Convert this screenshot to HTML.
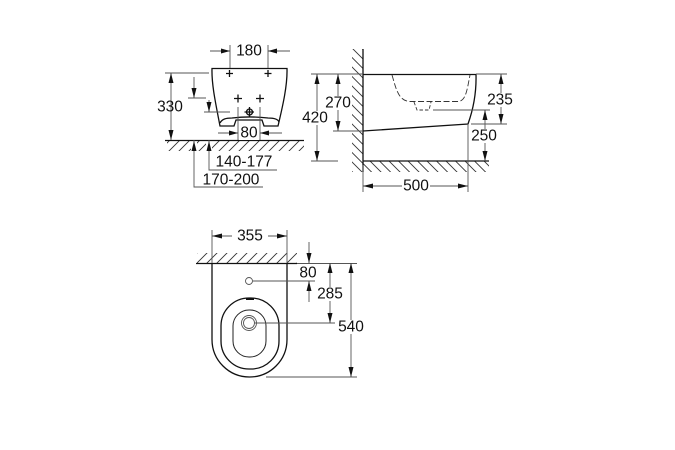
<!DOCTYPE html>
<html>
<head>
<meta charset="utf-8">
<style>
html,body{margin:0;padding:0;background:#fff;}
svg{display:block;}
text{font-family:"Liberation Sans",sans-serif;font-size:15.5px;fill:#111;text-anchor:middle;dominant-baseline:central;}
.k{fill:none;stroke:#111;stroke-width:1.3;}
.t{fill:none;stroke:#555;stroke-width:.9;}
.a{fill:#111;stroke:none;}
</style>
</head>
<body>
<svg width="675" height="450" viewBox="0 0 675 450" xmlns="http://www.w3.org/2000/svg">
<defs>
<pattern id="f" patternUnits="userSpaceOnUse" width="10" height="10"><path d="M0 10L10 0M-1 1L1 -1M9 11L11 9" stroke="#333" stroke-width=".9"/></pattern>
<pattern id="b" patternUnits="userSpaceOnUse" width="9.500" height="9.500"><path d="M0 0L9.500 9.500M-1 8.500L1 10.500M8.500 -1L10.500 1" stroke="#333" stroke-width=".9"/></pattern>
</defs>

<!-- FRONT VIEW -->
<rect x="167" y="140" width="137" height="11" fill="url(#f)"/>
<rect x="191" y="141" width="6" height="11" fill="#fff"/>
<rect x="206" y="141" width="6" height="11" fill="#fff"/>
<path class="k" d="M165 140.500H304"/>
<path class="k" d="M212 68.500H287C287.500 85 283 105 278 126H264L262 120H236L234 126H220C216 105 211.500 85 212 68.500Z"/>
<path class="k" d="M220 123C222 119 226 118 232 118C245 116.500 255 116.500 268 118C274 118 278 119 279 122"/>
<path class="t" d="M230 45V68M268 45V68M165 73H209M188 98H206M204 112H230M238 107V140M260 107V140M210 51H230M268 51H290M218 133H238M260 133H282"/>
<path class="k" stroke-width="1" d="M226 73.500h7M229.500 70v7M264.500 73.500h7M268 70v7M234 98.500h8M238 94.500v8M256 98.500h8M260 94.500v8"/>
<circle class="k" stroke-width="1" cx="249.500" cy="112" r="3"/>
<path class="k" stroke-width="1" d="M249.500 107V117M244.500 112H254"/>
<polygon class="a" points="230,51 221,48.500 221,53.500"/>
<polygon class="a" points="268,51 277,48.500 277,53.500"/>
<polygon class="a" points="238,133 229,130.500 229,135.500"/>
<polygon class="a" points="260,133 269,130.500 269,135.500"/>
<path class="t" d="M171 73V140M194 77V98M209 100V112M209 140V170H277M194 140V187H263"/>
<polygon class="a" points="171,73 168.500,83 173.500,83"/>
<polygon class="a" points="171,140 168.500,130 173.500,130"/>
<polygon class="a" points="194,98 191.500,88 196.500,88"/>
<polygon class="a" points="209,112 206.500,102 211.500,102"/>
<polygon class="a" points="209,141 206.500,151 211.500,151"/>
<polygon class="a" points="194,141 191.500,151 196.500,151"/>
<text x="249" y="51">180</text>
<text x="170" y="107">330</text>
<rect x="239" y="126" width="20" height="14" fill="#fff"/>
<text x="249" y="133">80</text>
<text x="244" y="162">140-177</text>
<text x="231" y="180">170-200</text>

<!-- SIDE VIEW -->
<rect x="352" y="49" width="11" height="123" fill="url(#b)"/>
<rect x="363" y="161" width="126" height="11" fill="url(#b)"/>
<path class="k" d="M363 49V172M363 161H489M363 74.500H476C476.500 92 473 110 468 124L363 131"/>
<path fill="none" stroke="#333" stroke-width=".9" stroke-dasharray="6 2.500" d="M392 75C396 88 398 101 410 101.500H458C466 101 467 90 470 75"/>
<path fill="none" stroke="#333" stroke-width=".9" stroke-dasharray="3.500 2" d="M414 102L417 110H429L431 102"/>
<path class="t" d="M468 124V192M363 165V192M311 74H363M311 161H338M333 131H363M476 74H507M471 124H507M433 110H490M317 74V161M338 74V131M501 74V124M485 110V161M363 186H402M430 186H468"/>
<polygon class="a" points="317,74 314.500,84 319.500,84"/>
<polygon class="a" points="317,161 314.500,151 319.500,151"/>
<polygon class="a" points="338,74 335.500,84 340.500,84"/>
<polygon class="a" points="338,131 335.500,121 340.500,121"/>
<polygon class="a" points="501,74 498.500,84 503.500,84"/>
<polygon class="a" points="501,124 498.500,114 503.500,114"/>
<polygon class="a" points="485,110 482.500,120 487.500,120"/>
<polygon class="a" points="485,161 482.500,151 487.500,151"/>
<polygon class="a" points="363,186 373,183.500 373,188.500"/>
<polygon class="a" points="468,186 458,183.500 458,188.500"/>
<rect x="303" y="111" width="26" height="14" fill="#fff"/>
<text x="315" y="118">420</text>
<rect x="326" y="96" width="25" height="14" fill="#fff"/>
<text x="338" y="103">270</text>
<rect x="487" y="93" width="26" height="14" fill="#fff"/>
<text x="500" y="100">235</text>
<rect x="471" y="129" width="26" height="14" fill="#fff"/>
<text x="484" y="136">250</text>
<text x="416" y="186">500</text>

<!-- TOP VIEW -->
<rect x="197" y="253" width="100" height="10" fill="url(#f)"/>
<path class="k" d="M196 263.500H297"/>
<path class="t" d="M297 263.500H357"/>
<path class="k" d="M212 263.500V339.500A37.500 37.500 0 0 0 287 339.500V263.500"/>
<rect class="k" x="221" y="298" width="58" height="71" rx="28" ry="28"/>
<rect class="t" style="stroke:#222;stroke-width:1" x="233" y="310" width="33" height="47" rx="16" ry="16"/>
<path d="M246 299H254" stroke="#111" stroke-width="2"/>
<circle class="t" cx="249" cy="281" r="3.500"/>
<circle class="t" cx="249" cy="323" r="7.500"/>
<circle class="t" cx="249" cy="323" r="5.500"/>
<path class="t" d="M212 230V263M287 230V263M212 236H232M268 236H287M253 281H315M309 242V263M309 281V302M254 323H335M330 263V323M351 263V377M266 377H357"/>
<polygon class="a" points="212,236 222,233.500 222,238.500"/>
<polygon class="a" points="287,236 277,233.500 277,238.500"/>
<polygon class="a" points="309,263 306.500,253 311.500,253"/>
<polygon class="a" points="309,281 306.500,291 311.500,291"/>
<polygon class="a" points="330,263 327.500,273 332.500,273"/>
<polygon class="a" points="330,323 327.500,313 332.500,313"/>
<polygon class="a" points="351,263 348.500,273 353.500,273"/>
<polygon class="a" points="351,377 348.500,367 353.500,367"/>
<text x="250" y="236">355</text>
<rect x="297" y="266" width="23" height="14" fill="#fff"/>
<text x="308" y="273">80</text>
<rect x="317" y="287" width="26" height="14" fill="#fff"/>
<text x="330" y="294">285</text>
<rect x="338" y="320" width="26" height="14" fill="#fff"/>
<text x="351" y="327">540</text>
</svg>
</body>
</html>
